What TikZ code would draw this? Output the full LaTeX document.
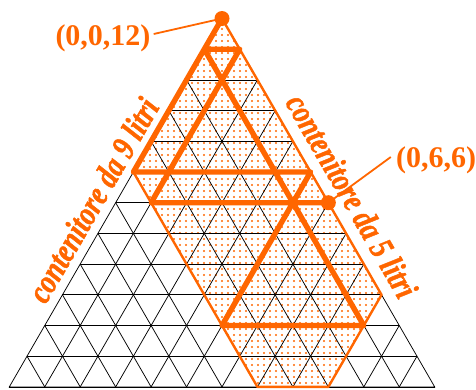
\documentclass[tikz,border=0pt]{standalone}
\usepackage{fontspec}
\usepackage{graphicx}
\setmainfont{Liberation Serif}
\newfontfamily\sidefont{Liberation Serif}[BoldItalicFeatures={FakeBold=1.6}]
\usetikzlibrary{patterns.meta}
\definecolor{pourorange}{RGB}{255,102,0}

\begin{document}
\begin{tikzpicture}[
  x={(35.45pt,0pt)}, y={(-17.725pt,-30.7pt)},
  gridline/.style={black, line width=0.75pt},
  region/.style={draw=pourorange, line width=2.4pt, line join=round},
  route/.style={pourorange, line width=5.4pt, line join=round, line cap=round},
  leader/.style={pourorange, line width=1.8pt},
  statedot/.style={circle, fill=pourorange, inner sep=0pt, minimum size=15pt},
  coordlabel/.style={text=pourorange, inner sep=0pt, font=\fontsize{30}{32}\selectfont\bfseries},
  sidelabel/.style={text=pourorange, inner sep=0pt, font=\sidefont\fontsize{34}{36}\selectfont\bfseries\itshape}
]
\useasboundingbox (-222pt,18.5pt) rectangle (254pt,-370.5pt);
\coordinate (s0) at (0,0);
\coordinate (s1) at (0,5);
\coordinate (s2) at (5,5);
\coordinate (s3) at (5,10);
\coordinate (s4) at (9,10);
\coordinate (s5) at (0,1);
\coordinate (s6) at (1,1);
\coordinate (s7) at (1,6);
\coordinate (s8) at (6,6);
\fill[pattern={Dots[distance=6pt,radius=1.2pt]}, pattern color=pourorange]
  (0,0) -- (0,5) -- (7,12) -- (9,12) -- (9,9) -- cycle;
\foreach \r in {1,...,12}
  \draw[gridline] (0,\r) -- (\r,\r);
\foreach \k in {1,...,11} {
  \draw[gridline] (\k,\k) -- (\k,12);
  \draw[gridline] (0,\k) -- (12-\k,12);
}
\draw[gridline] (0,0) -- (0,12) -- (12,12) -- cycle;
\draw[region] (0,0) -- (0,5) -- (7,12) -- (9,12) -- (9,9) -- cycle;
\draw[route] (s0) -- (s1) -- (s2) -- (s3) -- (s4) -- (s5) -- (s6) -- (s7) -- (s8);
\node[statedot] (start) at (s0) {};
\node[statedot] (goal) at (s8) {};
\node[coordlabel] (startlabel) at (-119pt,-19.5pt) {(0,0,12)};
\node[coordlabel] (goallabel) at (214pt,-141.5pt) {(0,6,6)};
\draw[leader] ([xshift=3pt,yshift=4pt]startlabel.east) -- (start.center);
\draw[leader] ([xshift=-5pt,yshift=3pt]goallabel.west) -- (goal.center);
\node[sidelabel, rotate=60] (ninelabel) at (-129pt,-181.5pt) {\scalebox{0.8}[1]{contenitore da 9 litri}};
\node[sidelabel, rotate=-60] (fivelabel) at (130pt,-177.5pt) {\scalebox{0.8}[1]{contenitore da 5 litri}};
\end{tikzpicture}
\end{document}
